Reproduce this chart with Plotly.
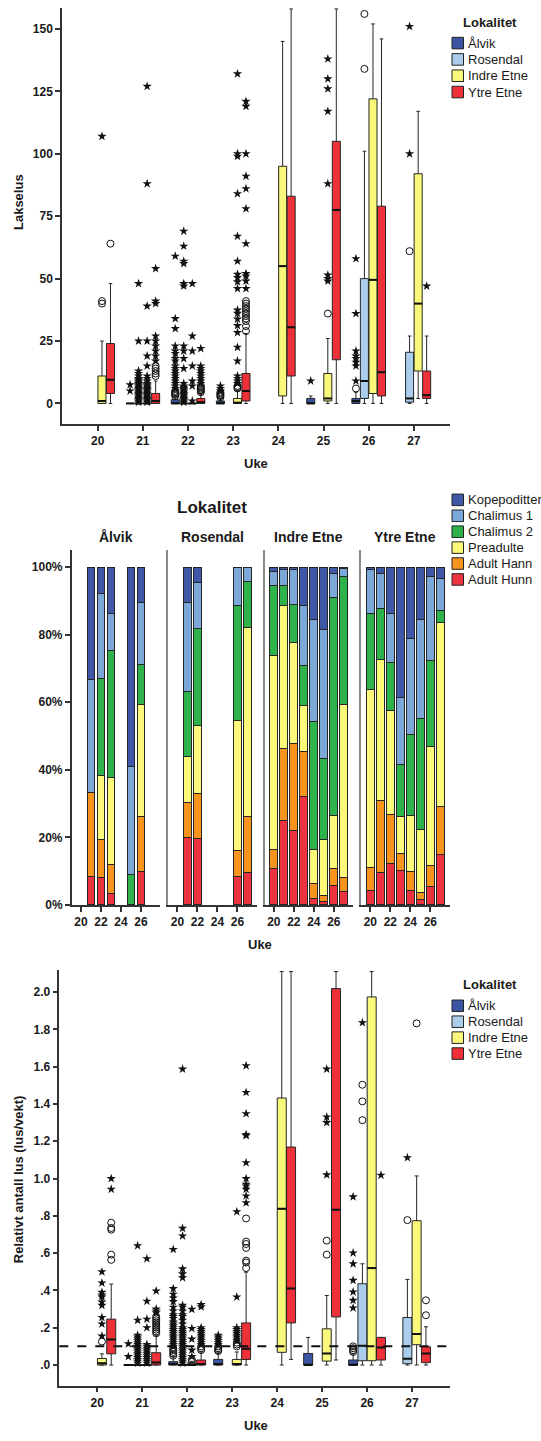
import plotly.graph_objects as go

W, H = 541, 1441

weeks = [20, 21, 22, 23, 24, 25, 26, 27]
locations = ["Ålvik", "Rosendal", "Indre Etne", "Ytre Etne"]
loc_colors = ["#3A55A4", "#AACDEB", "#FAF87A", "#EE3038"]

# ---------- Panel 1: Lakselus (box stats per week: lower whisker, q1, median, q3, upper whisker)
lice_alvik = [None, (0, 0, 0, 0, 0), (0, 0, 0, 1.5, 3), (0, 0, 0, 1, 2), None, (0, 0, 0, 2, 3), (0, 0, 1, 2, 4.5), None]
lice_rosendal = [None, (0, 0, 0, 0, 0), (0, 0, 0, 0, 0), None, None, None, (0, 2, 9, 50, 101), (0, 0.5, 2, 20.5, 27)]
lice_indre = [(0, 0, 1, 11, 25), (0, 0, 0, 0, 0), (0, 0, 0, 0, 0), (0, 0, 0.3, 2, 5), (0, 3, 55, 95, 145),
              (0, 1, 2, 12, 26), (0, 4, 49.5, 122, 152), (2, 13, 40, 92, 117)]
lice_ytre = [(0, 4, 9.5, 24, 48), (0, 0, 1, 4, 9), (0, 0, 0.5, 2, 4), (0, 1, 5, 12, 28), (0, 11, 30.5, 83, 158),
             (0, 17.5, 77.5, 105, 158), (0, 3, 12.5, 79, 146), (0, 2, 3.3, 13, 27)]

lice_stars_alvik = {21: [5, 7.5], 22: [6, 7, 8, 9, 10, 11, 12, 13, 14, 15, 17, 18, 20, 21, 23, 30, 34, 59],
                    23: [5, 6, 7], 25: [9], 26: [9, 15, 16.5, 18, 19, 21, 36, 58]}
lice_circles_alvik = {22: [3, 3.5, 4, 4.5, 5], 23: [2.5, 3, 3.5, 4, 4.5], 26: [6]}
lice_stars_rosendal = {21: [0.5, 1, 1.5, 2, 2.5, 3, 3.5, 4, 4.5, 5, 5.5, 6, 6.5, 7, 7.5, 8, 8.5, 9, 9.5, 10, 11, 12, 13, 25, 48],
                       22: [0.5, 1, 1.5, 2, 2.5, 3, 3.5, 4, 4.5, 5, 5.5, 6, 6.5, 7, 8, 14, 18, 21, 23, 47, 48, 56, 57, 63, 69],
                       27: [100, 151]}
lice_circles_rosendal = {26: [134, 156], 27: [61]}
lice_stars_indre = {20: [107],
                    21: [0.5, 1, 1.5, 2, 2.5, 3, 3.5, 4, 4.5, 5, 5.5, 6, 6.5, 7, 7.5, 8, 9, 10, 11, 15, 19, 25, 39, 88, 127],
                    22: [1, 7, 9, 15, 21, 27, 48],
                    23: [8, 9, 10, 11, 17, 22.5, 28.4, 31.2, 33.8, 36.1, 37.4, 46, 48.7, 50.4, 51.7, 57, 67, 84, 99, 100, 132],
                    25: [49, 50, 51.4, 88, 117, 126, 130, 138]}
lice_circles_indre = {20: [40, 41], 23: [6, 6.5, 7], 25: [36]}
lice_stars_ytre = {21: [17, 19, 21, 23, 25, 27, 40, 41, 54], 22: [8, 9, 10, 11, 12, 13, 14, 15, 22],
                   23: [46, 49, 51, 52, 64, 78, 86, 91, 100, 119, 121], 27: [47]}
lice_circles_ytre = {20: [64], 21: [11, 12, 13, 14, 15], 22: [4.5, 5, 5.5, 6, 6.5, 7],
                     23: [29, 31, 33, 34, 35, 36, 37, 38, 39, 40, 41]}

lice_ticks = [0, 25, 50, 75, 100, 125, 150]

# ---------- Panel 2: stage composition (%) per week, None = no sample
stages = ["Adult Hunn", "Adult Hann", "Preadulte", "Chalimus 2", "Chalimus 1", "Kopepoditter"]
stage_colors = ["#EE3340", "#F7941E", "#FBF87A", "#2DB34A", "#7BA8D8", "#3F58A8"]
stage_alvik = [None, (8.3, 25.0, 0, 0, 33.3, 33.4), (8.0, 11.4, 19.0, 28.7, 25.2, 7.7),
               (3.3, 8.6, 25.7, 37.6, 11.0, 13.8), None, (0, 0, 0, 8.9, 32.0, 59.1),
               (9.9, 16.2, 33.3, 11.9, 18.1, 10.6), None]
stage_rosendal = [None, (20.0, 10.2, 13.7, 19.3, 26.2, 10.6), (19.6, 13.4, 20.2, 28.6, 13.8, 4.4),
                  None, None, None, (8.5, 7.7, 38.3, 34.2, 11.3, 0), (9.5, 16.7, 56.0, 13.6, 4.2, 0)]
stage_indre = [(10.9, 5.5, 57.4, 20.8, 4.1, 1.3), (24.9, 21.4, 42.4, 5.9, 4.6, 0.8),
               (22.1, 25.7, 29.9, 11.2, 10.5, 0.6), (32.1, 13.2, 13.6, 12.1, 17.7, 11.3),
               (1.9, 4.3, 10.3, 37.7, 30.4, 15.4), (0.9, 2.0, 16.6, 23.8, 38.3, 18.4),
               (5.6, 5.3, 15.6, 64.5, 7.2, 1.8), (4.0, 4.0, 51.3, 37.8, 2.4, 0.5)]
stage_ytre = [(4.4, 6.8, 52.5, 22.5, 13.0, 0.8), (9.6, 21.3, 41.9, 14.9, 10.5, 1.8),
              (12.3, 14.5, 30.7, 14.3, 14.4, 13.8), (10.2, 5.0, 10.9, 15.5, 19.9, 38.5),
              (4.2, 5.7, 16.6, 23.9, 28.5, 21.1), (1.5, 2.2, 18.7, 32.7, 29.5, 15.4),
              (5.5, 6.3, 35.2, 25.3, 25.0, 2.7), (14.8, 14.2, 54.5, 3.7, 9.6, 3.2)]
pct_ticks = [0, 20, 40, 60, 80, 100]
pct_ticktext = ["0%", "20%", "40%", "60%", "80%", "100%"]
facet_week_ticks = [20, 22, 24, 26]

# ---------- Panel 3: relative lice count (lus/vekt)
rel_alvik = [None, (0, 0, 0, 0, 0), (0, 0, 0.005, 0.018, 0.045), (0, 0, 0.005, 0.03, 0.07), None,
             (0, 0, 0, 0.062, 0.148), (0, 0, 0, 0.027, 0.06), None]
rel_rosendal = [None, (0, 0, 0, 0, 0), (0, 0, 0, 0, 0), None, None, None,
                (0, 0.023, 0.103, 0.436, 0.543), (0, 0.007, 0.034, 0.255, 0.459)]
rel_indre = [(0, 0, 0.01, 0.035, 0.06), (0, 0, 0, 0, 0), (0, 0, 0, 0.01, 0.02), (0, 0, 0.005, 0.03, 0.07),
             (0, 0.068, 0.838, 1.432, 2.11), (0, 0.021, 0.062, 0.194, 0.373), (0, 0.023, 0.52, 1.974, 2.11),
             (0, 0.109, 0.167, 0.774, 1.014)]
rel_ytre = [(0, 0.06, 0.137, 0.246, 0.434), (0, 0, 0.014, 0.066, 0.16), (0, 0, 0.005, 0.027, 0.07),
            (0, 0.03, 0.087, 0.226, 0.498), (0.03, 0.226, 0.411, 1.169, 2.11), (0.027, 0.258, 0.833, 2.019, 2.11),
            (0, 0.027, 0.094, 0.148, 0.148), (0, 0.013, 0.062, 0.098, 0.205)]

rel_stars_alvik = {21: [0.045, 0.114],
                   22: [0.1, 0.11, 0.12, 0.13, 0.14, 0.15, 0.16, 0.17, 0.18, 0.19, 0.2, 0.21, 0.22, 0.23, 0.25,
                        0.26, 0.27, 0.29, 0.31, 0.34, 0.36, 0.38, 0.41, 0.62],
                   23: [0.11, 0.12, 0.13, 0.14, 0.15, 0.16],
                   26: [0.306, 0.347, 0.392, 0.454, 0.543, 0.601, 0.902]}
rel_circles_alvik = {22: [0.05, 0.06, 0.07, 0.08, 0.09], 23: [0.075, 0.08, 0.09, 0.1], 26: [0.07, 0.08, 0.09, 0.1]}
rel_stars_rosendal = {21: [0.01, 0.02, 0.03, 0.04, 0.05, 0.06, 0.07, 0.08, 0.09, 0.1, 0.11, 0.12, 0.13, 0.14,
                           0.15, 0.16, 0.24, 0.64],
                      22: [0.01, 0.02, 0.03, 0.04, 0.05, 0.06, 0.07, 0.08, 0.09, 0.1, 0.11, 0.12, 0.13, 0.14, 0.15,
                           0.16, 0.17, 0.18, 0.19, 0.2, 0.22, 0.24, 0.26, 0.27, 0.29, 0.31, 0.32, 0.468, 0.489,
                           0.516, 0.692, 0.733, 1.587],
                      26: [1.836], 27: [1.112]}
rel_circles_rosendal = {26: [1.313, 1.414, 1.503], 27: [0.777]}
rel_stars_indre = {20: [0.155, 0.22, 0.255, 0.32, 0.338, 0.365, 0.375, 0.39, 0.44, 0.50],
                   21: [0.01, 0.02, 0.03, 0.04, 0.05, 0.06, 0.07, 0.08, 0.09, 0.1, 0.11, 0.2, 0.246, 0.342, 0.57],
                   22: [0.045, 0.08, 0.139, 0.196, 0.299],
                   23: [0.13, 0.14, 0.15, 0.16, 0.17, 0.18, 0.19, 0.2, 0.365, 0.822],
                   25: [1.02, 1.3, 1.33, 1.587]}
rel_circles_indre = {20: [0.126], 22: [0.02, 0.03], 23: [0.1, 0.11, 0.12], 25: [0.592, 0.667], 27: [1.832]}
rel_stars_ytre = {20: [0.943, 1.0], 21: [0.28, 0.29, 0.3, 0.397],
                  22: [0.11, 0.12, 0.13, 0.14, 0.15, 0.16, 0.17, 0.18, 0.19, 0.2, 0.312, 0.324],
                  23: [0.87, 0.907, 0.943, 0.96, 0.97, 1.0, 1.085, 1.23, 1.236, 1.348, 1.462, 1.605],
                  26: [1.018]}
rel_circles_ytre = {20: [0.564, 0.592, 0.726, 0.735, 0.763],
                    21: [0.17, 0.18, 0.19, 0.2, 0.21, 0.22, 0.23, 0.24, 0.25, 0.26],
                    22: [0.08, 0.09, 0.1],
                    23: [0.52, 0.55, 0.56, 0.628, 0.649, 0.662, 0.786], 27: [0.267, 0.347]}
rel_threshold = 0.1
rel_ticks = [0, 0.2, 0.4, 0.6, 0.8, 1.0, 1.2, 1.4, 1.6, 1.8, 2.0]
rel_ticktext = [".0", ".2", ".4", ".6", ".8", "1.0", "1.2", "1.4", "1.6", "1.8", "2.0"]

# ---------------------------------------------------------------- helpers
FONT = "Liberation Sans, Arial, sans-serif"
INK = "#1a1a1a"


def px(x):
    return x / W


def py(y):
    return 1 - y / H


fig = go.Figure()


def add_box_panel(box_lists, star_lists, circle_lists, offsets, width, xa, ya):
    for loc_i, (stats, stars, circles) in enumerate(zip(box_lists, star_lists, circle_lists)):
        off = offsets[loc_i]
        xs, lo, q1, med, q3, hi = [], [], [], [], [], []
        for w, s in zip(weeks, stats):
            if s is None:
                continue
            xs.append(w + off)
            lo.append(s[0]); q1.append(s[1]); med.append(s[2]); q3.append(s[3]); hi.append(s[4])
        fig.add_trace(go.Box(
            x=xs, lowerfence=lo, q1=q1, median=med, q3=q3, upperfence=hi,
            orientation="v", width=width, fillcolor=loc_colors[loc_i],
            line=dict(color="#262626", width=1), whiskerwidth=0.45, boxpoints=False,
            xaxis=xa, yaxis=ya, showlegend=False, hoverinfo="skip"))
        # thicker median line (SPSS style), drawn over each box at its median
        mx, my = [], []
        for x, m in zip(xs, med):
            mx += [x - width / 2, x + width / 2, None]
            my += [m, m, None]
        fig.add_trace(go.Scatter(x=mx, y=my, mode="lines", line=dict(color="#111111", width=2),
                                 xaxis=xa, yaxis=ya, showlegend=False, hoverinfo="skip"))
        sx, sy = [], []
        for w, vals in stars.items():
            for v in vals:
                sx.append(w + off); sy.append(v)
        fig.add_trace(go.Scatter(x=sx, y=sy, mode="markers", xaxis=xa, yaxis=ya, showlegend=False,
                                 marker=dict(symbol="star", size=7, color="#111111", line=dict(width=0)),
                                 cliponaxis=True, hoverinfo="skip"))
        cx, cy = [], []
        for w, vals in circles.items():
            for v in vals:
                cx.append(w + off); cy.append(v)
        fig.add_trace(go.Scatter(x=cx, y=cy, mode="markers", xaxis=xa, yaxis=ya, showlegend=False,
                                 marker=dict(symbol="circle-open", size=7, color="#111111",
                                             line=dict(width=1, color="#111111")),
                                 cliponaxis=True, hoverinfo="skip"))


# Panel 1
add_box_panel([lice_alvik, lice_rosendal, lice_indre, lice_ytre],
              [lice_stars_alvik, lice_stars_rosendal, lice_stars_indre, lice_stars_ytre],
              [lice_circles_alvik, lice_circles_rosendal, lice_circles_indre, lice_circles_ytre],
              [-0.283, -0.095, 0.095, 0.283], 0.178, "x", "y")

# Panel 3
add_box_panel([rel_alvik, rel_rosendal, rel_indre, rel_ytre],
              [rel_stars_alvik, rel_stars_rosendal, rel_stars_indre, rel_stars_ytre],
              [rel_circles_alvik, rel_circles_rosendal, rel_circles_indre, rel_circles_ytre],
              [-0.31, -0.103, 0.103, 0.31], 0.2, "x6", "y6")

# Panel 2: stacked bars per facet
facet_data = [stage_alvik, stage_rosendal, stage_indre, stage_ytre]
for f_i, data in enumerate(facet_data):
    xa = "x%d" % (f_i + 2)
    ya = "y%d" % (f_i + 2)
    for s_i, stage in enumerate(stages):
        xs = [w for w, d in zip(weeks, data) if d is not None]
        ys = [d[s_i] for d in data if d is not None]
        fig.add_trace(go.Bar(x=xs, y=ys, marker=dict(color=stage_colors[s_i], line=dict(color="#262626", width=1)),
                             xaxis=xa, yaxis=ya, showlegend=False, hoverinfo="skip"))

tickfont = dict(family=FONT, size=12, color=INK, weight="bold")
axis_common = dict(showline=True, linecolor="#333333", linewidth=1.5, ticks="outside", ticklen=5,
                   tickwidth=1.5, tickcolor="#333333", showgrid=False, zeroline=False, tickfont=tickfont)

layout = dict(
    width=W, height=H, margin=dict(l=0, r=0, t=0, b=0), paper_bgcolor="white", plot_bgcolor="white",
    barmode="stack", bargap=0.23, boxmode="overlay", showlegend=False,
    xaxis=dict(domain=[px(62), px(450)], range=[19.21, 27.8], tickvals=weeks, anchor="y", **axis_common),
    yaxis=dict(domain=[py(426), py(8)], range=[-8.2, 158.4], tickvals=lice_ticks, anchor="x", **axis_common),
    xaxis6=dict(domain=[px(59.3), px(450)], range=[19.155, 27.845], tickvals=weeks, anchor="y6", **axis_common),
    yaxis6=dict(domain=[py(1392.3), py(975)], range=[-0.11, 2.117], tickvals=rel_ticks, ticktext=rel_ticktext,
                anchor="x6", **axis_common),
)

facet_left = [71.7, 168.1, 264.5, 361.0]
facet_w = 88.6
for f_i in range(4):
    n = f_i + 2
    layout["xaxis%d" % n] = dict(domain=[px(facet_left[f_i]), px(facet_left[f_i] + facet_w)], range=[19.07, 27.93],
                                 tickvals=facet_week_ticks, anchor="y%d" % n, **axis_common)
    yax = dict(domain=[py(909.3), py(553)], range=[0, 105], anchor="x%d" % n, showgrid=False, zeroline=False,
               showline=True, linewidth=1.5)
    if f_i == 0:
        yax.update(linecolor="#333333", ticks="outside", ticklen=5, tickwidth=1.5, tickcolor="#333333",
                   tickvals=pct_ticks, ticktext=pct_ticktext, tickfont=tickfont)
    else:
        yax.update(linecolor="#8a8a8a", showticklabels=False, ticks="")
    layout["yaxis%d" % n] = yax

fig.update_layout(**layout)

# threshold line in panel 3
fig.add_shape(type="line", xref="x6 domain", yref="y6", x0=0, x1=1, y0=rel_threshold, y1=rel_threshold,
              line=dict(color="#111111", width=2, dash="dash"))

annots = []


def text(x, y, s, size=13, bold=False, angle=0, xanchor="center"):
    annots.append(dict(x=px(x), y=py(y), xref="paper", yref="paper", text=s, showarrow=False,
                       xanchor=xanchor, yanchor="middle", textangle=angle,
                       font=dict(family=FONT, size=size, color=INK, weight="bold" if bold else "normal")))


# axis titles
text(18, 203, "Lakselus", 13, True, -90)
text(256, 466, "Uke", 13, True)
text(260, 949, "Uke", 13, True)
text(256, 1432, "Uke", 13, True)
text(18, 1185, "Relativt antall lus (lus/vekt)", 13, True, -90)

# middle panel titles
text(212, 510, "Lokalitet", 17, True)
for f_i, loc in enumerate(locations):
    text(facet_left[f_i] + facet_w / 2, 540, loc, 14, True)


# legends
def legend(title_y, first_y, step, labels, colors, title=None):
    if title:
        text(490, title_y, title, 13, True)
    for i, (lab, col) in enumerate(zip(labels, colors)):
        yc = first_y + i * step
        fig.add_shape(type="rect", xref="paper", yref="paper", x0=px(452), x1=px(463.5),
                      y0=py(yc + 5.8), y1=py(yc - 5.8), fillcolor=col, line=dict(color="#222222", width=1))
        text(466, yc, lab, 13, False, 0, "left")


legend(22.7, 43.3, 16.4, locations, loc_colors, "Lokalitet")
legend(0, 502.3, 16.0, stages[::-1], stage_colors[::-1])
legend(989, 1010.7, 16.0, locations, loc_colors, "Lokalitet")

fig.update_layout(annotations=annots)

fig.write_html("out.html", config={"displayModeBar": False},
               post_script="document.body.style.margin='0';")
